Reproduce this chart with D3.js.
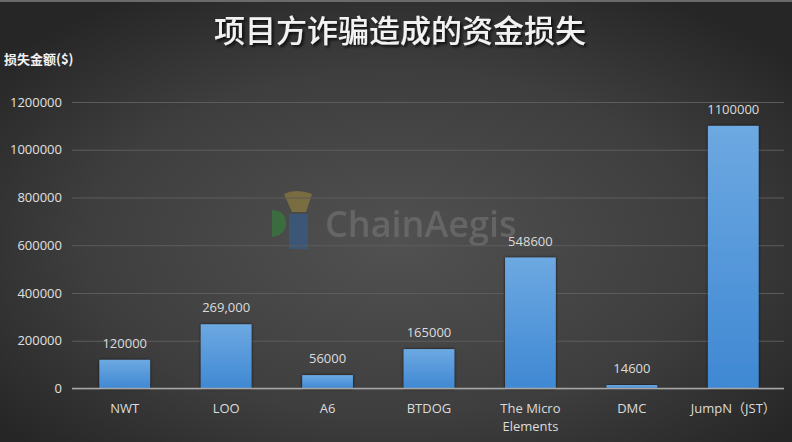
<!DOCTYPE html>
<html>
<head>
<meta charset="utf-8">
<script src="https://cdn.jsdelivr.net/npm/d3@7"></script>
<style>
  body { margin: 0; background: #333; }
  svg { display: block; }
</style>
</head>
<body>
<svg id="chart" width="792" height="442"></svg>
<script>
// data
const projects = ["NWT", "LOO", "A6", "BTDOG", "The Micro\nElements", "DMC", "JumpN（JST）"];
const losses = [120000, 269000, 56000, 165000, 548600, 14600, 1100000];
const valueLabels = ["120000", "269,000", "56000", "165000", "548600", "14600", "1100000"];
const yTicks = [0, 200000, 400000, 600000, 800000, 1000000, 1200000];

const W = 792, H = 442;
const margin = {top: 102, right: 8, bottom: 54, left: 74};

const svg = d3.select("#chart");
const defs = svg.append("defs");

// background radial glow
const bg = defs.append("radialGradient").attr("id", "bg")
  .attr("cx", "50%").attr("cy", "55%").attr("r", "65%");
bg.append("stop").attr("offset", "0%").attr("stop-color", "#515151");
bg.append("stop").attr("offset", "60%").attr("stop-color", "#3e3e3e");
bg.append("stop").attr("offset", "100%").attr("stop-color", "#262626");

const barGrad = defs.append("linearGradient").attr("id", "bar")
  .attr("x1", 0).attr("y1", 0).attr("x2", 0).attr("y2", 1);
barGrad.append("stop").attr("offset", "0%").attr("stop-color", "#6da9e2");
barGrad.append("stop").attr("offset", "100%").attr("stop-color", "#3f88d3");

const shadow = defs.append("filter").attr("id", "shadow")
  .attr("x", "-20%").attr("y", "-20%").attr("width", "140%").attr("height", "140%");
shadow.append("feDropShadow").attr("dx", 0).attr("dy", 0).attr("stdDeviation", 1.6)
  .attr("flood-color", "#000").attr("flood-opacity", 0.75);

const tshadow = defs.append("filter").attr("id", "tshadow");
tshadow.append("feDropShadow").attr("dx", 2).attr("dy", 2).attr("stdDeviation", 1.5)
  .attr("flood-color", "#000").attr("flood-opacity", 0.8);

svg.append("rect").attr("width", W).attr("height", H).attr("fill", "url(#bg)");
svg.append("rect").attr("width", W).attr("height", 2).attr("fill", "#6a6a6a");

const x = d3.scaleBand().domain(projects)
  .range([margin.left, W - margin.right]).paddingInner(0.5).paddingOuter(0.25);
const y = d3.scaleLinear().domain([0, 1200000]).range([388.5, margin.top]);

// watermark
const wm = svg.append("g").attr("opacity", 0.55);
wm.append("path").attr("d", "M284,194 Q296,188 312,194 L306,212 L292,212 Z").attr("fill", "#a08a3a");
wm.append("path").attr("d", "M272,210 Q286,211 286,223 Q286,235 272,237 Z").attr("fill", "#2f8a3a");
wm.append("rect").attr("x", 289).attr("y", 214).attr("width", 19).attr("height", 35).attr("fill", "#2e5f9a");
wm.append("text").attr("x", 325).attr("y", 237)
  .attr("font-family", "Open Sans, sans-serif").attr("font-size", 36).attr("font-weight", 600)
  .attr("fill", "#7a7a7a").text("ChainAegis");

// gridlines + y ticks
const yAxis = svg.append("g").attr("transform", `translate(${margin.left - 2},0)`)
  .call(d3.axisLeft(y).tickValues(yTicks).tickSize(-(W - margin.right - margin.left + 2)).tickFormat(d3.format("d")));
yAxis.select(".domain").remove();
yAxis.selectAll(".tick line").attr("stroke", "#5c5c5c").attr("stroke-width", 1);
yAxis.selectAll(".tick text").attr("x", -10)
  .attr("fill", "#e0e0e0").attr("font-size", 13)
  .attr("font-family", "Open Sans, Noto Sans, sans-serif");

// bars
svg.append("g").selectAll("rect").data(losses).join("rect")
  .attr("x", (d, i) => x(projects[i]))
  .attr("y", d => y(d))
  .attr("width", x.bandwidth())
  .attr("height", d => y(0) - y(d))
  .attr("fill", "url(#bar)")
  .attr("filter", "url(#shadow)");

// baseline
svg.append("line").attr("x1", margin.left - 2).attr("x2", W - margin.right)
  .attr("y1", y(0)).attr("y2", y(0)).attr("stroke", "#a6a6a6").attr("stroke-width", 1.5);

// value labels
svg.append("g").selectAll("text").data(losses).join("text")
  .attr("x", (d, i) => x(projects[i]) + x.bandwidth() / 2)
  .attr("y", d => y(d) - 12)
  .attr("text-anchor", "middle")
  .attr("fill", "#dcdcdc").attr("font-size", 13)
  .attr("font-family", "Open Sans, Noto Sans, sans-serif")
  .text((d, i) => valueLabels[i]);

// category labels
const cat = svg.append("g").selectAll("text").data(projects).join("text")
  .attr("x", d => x(d) + x.bandwidth() / 2)
  .attr("y", 413)
  .attr("text-anchor", "middle")
  .attr("fill", "#dcdcdc").attr("font-size", 13)
  .attr("font-family", "Open Sans, Noto Sans CJK SC, sans-serif");
cat.each(function(d) {
  const lines = d.split("\n");
  d3.select(this).selectAll("tspan").data(lines).join("tspan")
    .attr("x", x(d) + x.bandwidth() / 2)
    .attr("dy", (l, i) => i ? 18 : 0)
    .text(l => l);
});

// title
svg.append("text").attr("x", 400).attr("y", 42).attr("text-anchor", "middle")
  .attr("font-family", "Noto Sans CJK SC, sans-serif").attr("font-size", 31).attr("font-weight", 500)
  .attr("fill", "#f2f2f2").attr("filter", "url(#tshadow)")
  .text("项目方诈骗造成的资金损失");

// y axis title
svg.append("text").attr("x", 4).attr("y", 64)
  .attr("font-family", "Noto Sans CJK SC, sans-serif").attr("font-size", 13).attr("font-weight", 700)
  .attr("fill", "#f0f0f0").text("损失金额($)");
</script>
</body>
</html>
